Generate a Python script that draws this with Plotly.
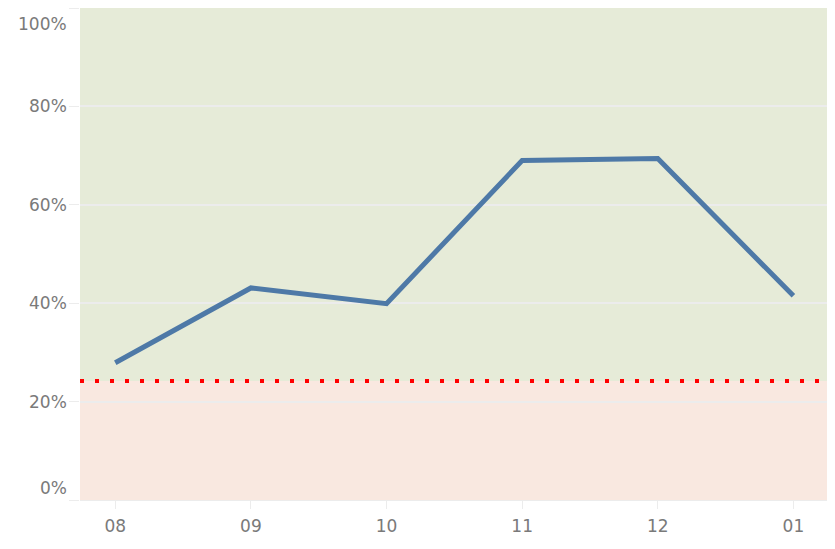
import plotly.graph_objects as go

months = ["08", "09", "10", "11", "12", "01"]
rate = [27.9, 43.1, 39.9, 69.0, 69.4, 41.5]
threshold = 24.2
y_ticks = [0, 20, 40, 60, 80, 100]

GRID = "#ececec"
FONT = dict(family="'DejaVu Sans', sans-serif", size=17, color="#7a7a7a")

fig = go.Figure()
fig.add_trace(go.Scatter(
    x=list(range(len(months))), y=rate, mode="lines",
    line=dict(color="#4E79A7", width=5),
    hoverinfo="skip",
))

# zones above/below the threshold
fig.add_shape(type="rect", xref="paper", yref="y", x0=0, x1=1, y0=threshold, y1=100,
              fillcolor="#E6EBD8", line_width=0, layer="below")
fig.add_shape(type="rect", xref="paper", yref="y", x0=0, x1=1, y0=0, y1=threshold,
              fillcolor="#F9E8E0", line_width=0, layer="below")
fig.add_shape(type="line", xref="paper", yref="y", x0=0, x1=1, y0=threshold, y1=threshold,
              line=dict(color="#FF0000", width=4, dash="4px,11px"))

# Tableau-style end labels: 0% sits above its tick, 100% below
for v in y_ticks:
    if v == 0:
        ya, shift = "bottom", 0
    elif v == 100:
        ya, shift = "top", -4
    else:
        ya, shift = "middle", 0
    fig.add_annotation(x=0, xref="paper", xanchor="right", xshift=-11,
                       y=v, yref="y", yanchor=ya, yshift=shift,
                       text=f"{v}%", showarrow=False, font=FONT)

fig.update_xaxes(
    tickvals=list(range(len(months))), ticktext=months,
    range=[-0.26, 5.27], showgrid=False, zeroline=False,
    showline=True, linecolor=GRID, linewidth=1,
    ticks="outside", ticklen=8, tickcolor=GRID, tickfont=FONT,
    ticklabelstandoff=3,
)
fig.update_yaxes(
    range=[0, 100], tickvals=y_ticks, showticklabels=False,
    showgrid=True, gridcolor=GRID, gridwidth=1.5, zeroline=False,
    ticks="outside", ticklen=10, tickcolor=GRID,
)
fig.update_layout(
    width=827, height=541,
    margin=dict(l=72, r=5, t=0, b=49),
    showlegend=False,
    plot_bgcolor="white", paper_bgcolor="white",
    font=FONT,
)
fig.write_html("out.html")
